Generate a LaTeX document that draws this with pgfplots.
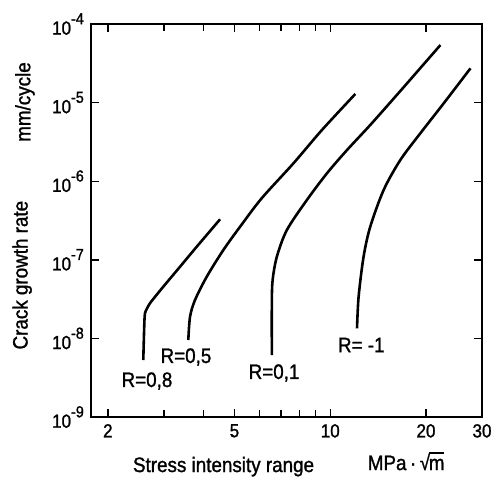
\documentclass[border=0pt]{standalone}
\usepackage{pgfplots}
\pgfplotsset{compat=1.18}
\usepackage{fontspec}
\setmainfont{Liberation Sans}[FakeStretch=0.9,FakeBold=1.2]
\newcommand{\tenpow}[1]{10\raisebox{0.55em}{\fontsize{16}{16}\selectfont -#1}}
\begin{document}
\fontsize{21}{23}\selectfont
\begin{tikzpicture}
\path[use as bounding box] (-91bp,-68bp) rectangle (409bp,417bp);
\begin{axis}[
  at={(0,0)}, anchor=south west,
  scale only axis, width=391bp, height=393bp,
  xmode=log, ymode=log,
  xmin=1.77, xmax=30, ymin=1e-9, ymax=1e-4,
  xtick={2,5,10,20,30}, xticklabels={2,5,10,20,30},
  minor xtick={3,4,6,7,8,9},
  ytick={1e-9,1e-8,1e-7,1e-6,1e-5,1e-4},
  yticklabels={\tenpow{9},\tenpow{8},\tenpow{7},\tenpow{6},\tenpow{5},\tenpow{4}},
  yminorticks=false,
  tick align=inside,
  major tick length=8bp, minor tick length=7bp,
  axis line style={line width=2.2pt},
  every tick/.style={line width=1.4pt, black},
  tick label style={font=\fontsize{19}{21}\selectfont},
  /pgf/number format/assume math mode=true,
  clip=false,
]
% R = 0.8
\addplot[black, line width=2.6pt, smooth, tension=0.3] coordinates {
 (2.584,5.31e-9) (2.600,1.3e-8) (2.616,2.09e-8) (2.712,2.80e-8) (2.987,4.55e-8)
 (3.372,8.17e-8) (3.805,1.468e-7) (4.505,3.277e-7)};
% R = 0.5
\addplot[black, line width=2.6pt, smooth, tension=0.5] coordinates {
 (3.580,9.54e-9) (3.625,1.888e-8) (3.758,3.08e-8) (4.091,6.10e-8) (4.614,1.333e-7)
 (5.208,2.637e-7) (6.086,6.05e-7) (7.664,1.69e-6) (9.416,4.48e-6) (11.99,1.287e-5)};
% R = 0.1
\addplot[black, line width=2.6pt, smooth, tension=0.5] coordinates {
 (6.553,6.15e-9) (6.553,2.797e-8) (6.591,5.53e-8) (6.795,1.095e-7) (7.307,2.393e-7)
 (8.446,5.77e-7) (9.765,1.26e-6) (11.29,2.49e-6) (13.36,5.19e-6) (16.61,1.405e-5)
 (22.20,5.40e-5)};
% R = -1
\addplot[black, line width=2.6pt, smooth, tension=0.5] coordinates {
 (12.14,1.344e-8) (12.28,3.39e-8) (12.73,1.095e-7) (13.36,2.637e-7) (14.72,7.73e-7)
 (16.61,1.861e-6) (19.20,4.07e-6) (22.74,9.80e-6) (27.60,2.73e-5)};
\node at (axis cs:2.654,2.87e-9) {R=0,8};
\node at (axis cs:3.52,5.8e-9) {R=0,5};
\node at (axis cs:6.66,3.63e-9) {R=0,1};
\node at (axis cs:12.52,8.24e-9) {R= -1};
\node[anchor=base] at (rel axis cs:0.339,-0.14) {Stress intensity range};
\node[anchor=base, inner sep=0pt] at (rel axis cs:0.806,-0.135) {MPa\,·\,√\kern-0.06em\rlap{\rule[0.78em]{0.74em}{1.3pt}}m};
\node[rotate=90] at (rel axis cs:-0.169,0.8015) {mm/cycle};
\node[rotate=90] at (rel axis cs:-0.176,0.361) {Crack growth rate};
\end{axis}
\end{tikzpicture}
\end{document}
